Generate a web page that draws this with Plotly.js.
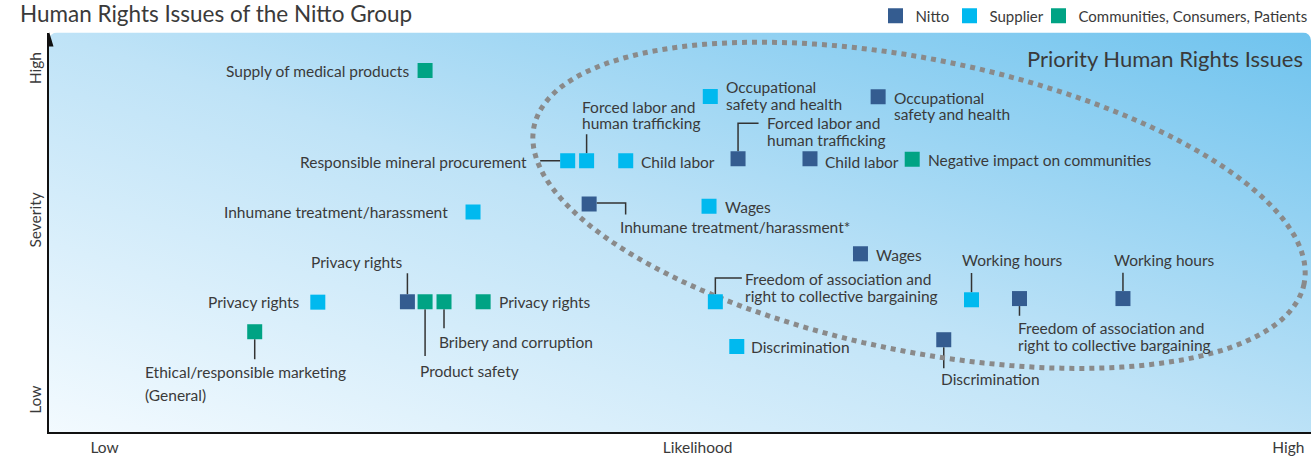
<!DOCTYPE html>
<html>
<head>
<meta charset="utf-8">
<script src="https://cdn.plot.ly/plotly-3.0.1.min.js"></script>
<style>
  html, body { margin: 0; padding: 0; background: #ffffff; overflow: hidden; }
  #chart { width: 1311px; height: 458px; }
</style>
</head>
<body>
<div id="chart"></div>
<script>
// ---------------- DATA ----------------
const seriesNames = ["Nitto", "Supplier", "Communities, Consumers, Patients"];

const nittoIssues = [
  "Occupational\nsafety and health",
  "Forced labor and\nhuman trafficking",
  "Child labor",
  "Inhumane treatment/harassment*",
  "Wages",
  "Freedom of association and\nright to collective bargaining",
  "Working hours",
  "Discrimination",
  "Privacy rights"
];
const nittoLikelihood = [6.57, 5.46, 6.03, 4.28, 6.43, 7.69, 8.51, 7.09, 2.84];
const nittoSeverity   = [8.39, 6.84, 6.84, 5.71, 4.46, 3.34, 3.34, 2.31, 3.26];

const supplierIssues = [
  "Occupational\nsafety and health",
  "Responsible mineral procurement",
  "Forced labor and\nhuman trafficking",
  "Child labor",
  "Inhumane treatment/harassment",
  "Wages",
  "Freedom of association and\nright to collective bargaining",
  "Discrimination",
  "Working hours",
  "Privacy rights"
];
const supplierLikelihood = [5.24, 4.11, 4.26, 4.57, 3.36, 5.23, 5.28, 5.45, 7.31, 2.13];
const supplierSeverity   = [8.40, 6.79, 6.79, 6.79, 5.51, 5.65, 3.26, 2.14, 3.31, 3.25];

const communityIssues = [
  "Supply of medical products",
  "Negative impact on communities",
  "Privacy rights",
  "Product safety",
  "Bribery and corruption",
  "Ethical/responsible marketing\n(General)"
];
const communityLikelihood = [2.98, 6.84, 3.44, 2.98, 3.13, 1.63];
const communitySeverity   = [9.05, 6.83, 3.26, 3.26, 3.26, 2.51];

const xTickLabels = ["Low", "Likelihood", "High"];
const xTickValues = [0.44, 5.14, 9.82];
const yTickLabels = ["Low", "Severity", "High"];
const yTickValues = [0.75, 5.25, 9.05];

const chartTitle = "Human Rights Issues of the Nitto Group";
const priorityTitle = "Priority Human Rights Issues";

// ---------------- STYLE / PLACEMENT ----------------
const colors = ["#345c90", "#00b9ef", "#00a384"];
const FONT = "Lato, 'Open Sans', sans-serif";
const textColor = "#3a3a3a";
const labelFont = { family: FONT, size: 15.5, color: textColor };
const LH = 16.5;

// legend entry positions (left edge of each legend box, px)
const legendX = [875.5, 949.5, 1038.5];

// label placement: anchor, pixel offsets of first line (screen, y down), line height, connector polyline
const nittoPlace = [
  { a: "left", dx: 13.5, dy: 1 },
  { a: "left", dx: 26.5, dy: -35.5, conn: [[0, -7.5], [0, -35.5], [20.5, -35.5]] },
  { a: "left", dx: 13, dy: 3 },
  { a: "left", dx: 28.5, dy: 23.5, conn: [[7.5, -0.8], [36.5, -0.8], [36.5, 10.5]] },
  { a: "left", dx: 13.5, dy: 1.5 },
  { a: "left", dx: -3.5, dy: 29.5, conn: [[0, 7.5], [0, 17.2]] },
  { a: "center", dx: 42, dy: -38.5, conn: [[0, -7.5], [0, -25.8]] },
  { a: "left", dx: -4.5, dy: 39.5, conn: [[0, 7.5], [0, 28.5]] },
  { a: "center", dx: -50.5, dy: -39.5, conn: [[0, -7.5], [0, -28.5]] }
];
const supplierPlace = [
  { a: "left", dx: 13.5, dy: -9 },
  { a: "right", dx: -38.5, dy: 1.5, conn: [[-7.5, 0], [-27.5, 0]] },
  { a: "left", dx: -6.5, dy: -54, conn: [[0, -7.5], [0, -26.5]] },
  { a: "left", dx: 13.5, dy: 1.5 },
  { a: "right", dx: -23.5, dy: 0.5 },
  { a: "left", dx: 13.5, dy: 1 },
  { a: "left", dx: 27.5, dy: -22.5, conn: [[0, -7.5], [0, -23.8], [26.5, -23.8]] },
  { a: "left", dx: 12.5, dy: 0.5 },
  { a: "center", dx: 40.5, dy: -39.5, conn: [[0, -7.5], [0, -26.8]] },
  { a: "right", dx: -15.5, dy: 0 }
];
const communityPlace = [
  { a: "right", dx: -14.5, dy: 1 },
  { a: "left", dx: 13.5, dy: 1 },
  { a: "left", dx: 13.5, dy: 0.5 },
  { a: "left", dx: -7.5, dy: 69.5, conn: [[0, 7.5], [0, 54.2]] },
  { a: "left", dx: -7.5, dy: 40.5, conn: [[0, 7.5], [0, 26.5]] },
  { a: "left", dx: -111.5, dy: 40.5, lh: 23, conn: [[0, 7.5], [0, 27.5]] }
];

// priority ellipse (centre in data units, radii in px, tilt in degrees)
const ellipse = { cx: 6.894, cy: 5.675, a: 393, b: 146, tilt: 11.5 };

// ---------------- BUILD ----------------
const annotations = [];
const shapes = [];

function addLabels(xs, ys, texts, place) {
  texts.forEach((t, i) => {
    const p = place[i];
    const lines = t.split("\n");
    lines.forEach((ln, k) => {
      annotations.push({
        x: xs[i], y: ys[i], xref: "x", yref: "y",
        text: ln, showarrow: false,
        xanchor: p.a, yanchor: "middle", align: p.a,
        xshift: p.dx, yshift: -(p.dy + k * (p.lh || LH)),
        font: labelFont
      });
    });
    if (p.conn) {
      shapes.push({
        type: "path", xref: "x", yref: "y",
        xsizemode: "pixel", ysizemode: "pixel",
        xanchor: xs[i], yanchor: ys[i],
        path: "M" + p.conn.map(([a, b]) => a + "," + (-b)).join(" L"),
        line: { color: "#333333", width: 1.5 },
        layer: "below"
      });
    }
  });
}
addLabels(nittoLikelihood, nittoSeverity, nittoIssues, nittoPlace);
addLabels(supplierLikelihood, supplierSeverity, supplierIssues, supplierPlace);
addLabels(communityLikelihood, communitySeverity, communityIssues, communityPlace);

// ellipse path in pixel offsets
(function () {
  const phi = ellipse.tilt * Math.PI / 180;
  const pts = [];
  for (let d = 0; d <= 360; d += 2) {
    const t = d * Math.PI / 180;
    const dx = ellipse.a * Math.cos(t) * Math.cos(phi) - ellipse.b * Math.sin(t) * Math.sin(phi);
    const dy = ellipse.a * Math.cos(t) * Math.sin(phi) + ellipse.b * Math.sin(t) * Math.cos(phi);
    pts.push(dx.toFixed(1) + "," + (-dy).toFixed(1));
  }
  shapes.push({
    type: "path", xref: "x", yref: "y",
    xsizemode: "pixel", ysizemode: "pixel",
    xanchor: ellipse.cx, yanchor: ellipse.cy,
    path: "M" + pts.join(" L") + " Z",
    line: { color: "#8a8a8a", width: 5, dash: "5px,5px" },
    layer: "below"
  });
})();

// y-axis arrowhead
shapes.push({
  type: "path", xref: "x", yref: "y",
  xsizemode: "pixel", ysizemode: "pixel",
  xanchor: 0, yanchor: 10,
  path: "M-4.5,-14 L4.5,-14 L0,1 Z",
  fillcolor: "#111111", line: { color: "#111111", width: 0 },
  layer: "above"
});

annotations.push({
  xref: "paper", yref: "paper", x: 0.7734, y: 0.935,
  xanchor: "left", yanchor: "middle", showarrow: false,
  text: priorityTitle, font: { family: FONT, size: 22, color: textColor }
});

// gradient background
const svgBg = '<svg xmlns="http://www.w3.org/2000/svg" width="1262" height="400" viewBox="0 0 1262 400">' +
  '<defs><linearGradient id="g" x1="0" y1="1" x2="1" y2="0">' +
  '<stop offset="0" stop-color="#f5fbff"/>' +
  '<stop offset="0.5" stop-color="#bfe3f7"/>' +
  '<stop offset="1" stop-color="#6fc3ee"/>' +
  '</linearGradient></defs>' +
  '<rect x="0" y="0" width="1262" height="420" rx="8" ry="8" fill="url(#g)"/></svg>';
const bgSource = "data:image/svg+xml;charset=utf-8," + encodeURIComponent(svgBg);

const allX = [nittoLikelihood, supplierLikelihood, communityLikelihood];
const allY = [nittoSeverity, supplierSeverity, communitySeverity];
const allT = [nittoIssues, supplierIssues, communityIssues];
const legendIds = ["legend", "legend2", "legend3"];

const traces = seriesNames.map((n, i) => ({
  type: "scatter", mode: "markers", name: n,
  x: allX[i], y: allY[i],
  text: allT[i].map(s => s.replace("\n", " ")),
  hoverinfo: "text+name",
  legend: legendIds[i],
  marker: { symbol: "square", size: 15, color: colors[i], line: { width: 0 } }
}));

function legendBox(px) {
  return {
    orientation: "h", xref: "container", yref: "container",
    x: px / 1311, y: 1 - 16 / 458, xanchor: "left", yanchor: "middle",
    font: { family: FONT, size: 15, color: textColor },
    bgcolor: "rgba(0,0,0,0)", borderwidth: 0
  };
}

const layout = {
  width: 1311, height: 458,
  margin: { l: 49, r: 0, t: 32, b: 26, pad: 0 },
  paper_bgcolor: "#ffffff",
  plot_bgcolor: "rgba(0,0,0,0)",
  font: { family: FONT, size: 15, color: textColor },
  title: {
    text: chartTitle, xref: "container", yref: "container",
    x: 20 / 1311, xanchor: "left", y: 1 - 14 / 458, yanchor: "middle",
    pad: { t: 0, b: 0, l: 0, r: 0 },
    font: { family: FONT, size: 22.5, color: textColor }
  },
  showlegend: true,
  legend: legendBox(legendX[0]),
  legend2: legendBox(legendX[1]),
  legend3: legendBox(legendX[2]),
  xaxis: {
    range: [0, 10], showgrid: false, zeroline: false,
    showline: true, linecolor: "#111111", linewidth: 2,
    tickvals: xTickValues, ticktext: xTickLabels, ticks: "",
    tickfont: { family: FONT, size: 15.5, color: textColor },
    fixedrange: true
  },
  yaxis: {
    range: [0, 10], showgrid: false, zeroline: false,
    showline: true, linecolor: "#111111", linewidth: 2,
    tickvals: yTickValues, ticktext: yTickLabels, ticks: "",
    tickangle: -90,
    tickfont: { family: FONT, size: 15.5, color: textColor },
    fixedrange: true
  },
  images: [{
    source: bgSource, xref: "paper", yref: "paper",
    x: 0, y: 1, sizex: 1, sizey: 1, sizing: "stretch",
    xanchor: "left", yanchor: "top", layer: "below"
  }],
  shapes: shapes,
  annotations: annotations,
  hovermode: false
};

Plotly.newPlot("chart", traces, layout, { displayModeBar: false, staticPlot: true });
</script>
</body>
</html>
